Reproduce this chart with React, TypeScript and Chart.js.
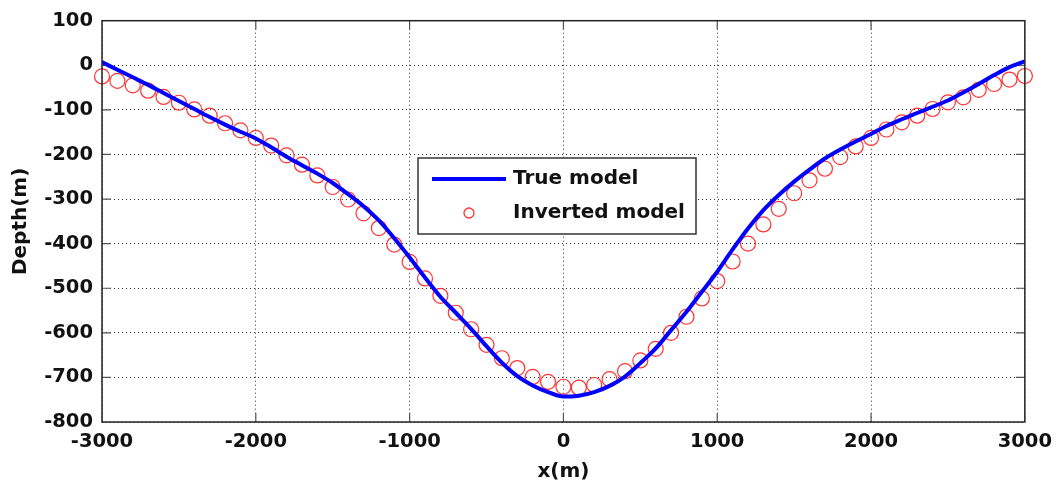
import React, { useEffect, useRef } from 'react';
import { Chart, registerables } from 'chart.js';

Chart.register(...registerables);

// ---- data ----
const xPositions: number[] = [
  -3000, -2900, -2800, -2700, -2600, -2500, -2400, -2300, -2200, -2100,
  -2000, -1900, -1800, -1700, -1600, -1500, -1400, -1300, -1200, -1100,
  -1000, -900, -800, -700, -600, -500, -400, -300, -200, -100,
  0, 100, 200, 300, 400, 500, 600, 700, 800, 900,
  1000, 1100, 1200, 1300, 1400, 1500, 1600, 1700, 1800, 1900,
  2000, 2100, 2200, 2300, 2400, 2500, 2600, 2700, 2800, 2900, 3000,
];

const trueDepth: number[] = [
  7, -10, -27, -44, -62, -80, -98, -116, -133, -149,
  -164, -184, -205, -224, -243, -264, -289, -316, -348, -388,
  -431, -476, -519, -555, -591, -630, -667, -697, -718, -733,
  -743, -741, -733, -719, -698, -668, -635, -594, -553, -508,
  -463, -413, -366, -325, -291, -261, -234, -209, -189, -171,
  -154, -136, -121, -107, -93, -79, -61, -42, -22, -4, 9,
];

const invertedDepth: number[] = [
  -25, -35, -45, -57, -71, -84, -99, -113, -130, -146,
  -163, -180, -202, -223, -247, -273, -301, -332, -365, -402,
  -441, -478, -517, -555, -592, -627, -657, -679, -699, -710,
  -721, -723, -717, -704, -686, -662, -636, -600, -564, -523,
  -484, -440, -400, -357, -322, -287, -258, -232, -206, -182,
  -163, -144, -128, -113, -98, -83, -72, -55, -42, -32, -24,
];

const xTicks: number[] = [-3000, -2000, -1000, 0, 1000, 2000, 3000];
const yTicks: number[] = [100, 0, -100, -200, -300, -400, -500, -600, -700, -800];

const seriesLabels: string[] = ['True model', 'Inverted model'];

// ---- styles ----
const FONT = "'DejaVu Sans', 'Liberation Sans', Arial, sans-serif";
const TEXT_COLOR = '#111111';
const BLUE = '#0000ff';
const RED = 'rgba(255, 30, 30, 0.9)';

const framePlugin = {
  id: 'matlabFrame',
  beforeDatasetsDraw(chart: any) {
    const { ctx, chartArea, scales } = chart;
    const { left, right, top, bottom } = chartArea;
    const tl = 9;
    ctx.save();
    ctx.strokeStyle = '#555555';
    ctx.lineWidth = 1.2;
    ctx.beginPath();
    for (const v of xTicks) {
      const px = scales.x.getPixelForValue(v);
      if (px <= left + 1 || px >= right - 1) continue;
      ctx.moveTo(px, bottom);
      ctx.lineTo(px, bottom - tl);
      ctx.moveTo(px, top);
      ctx.lineTo(px, top + tl);
    }
    for (const v of yTicks) {
      const py = scales.y.getPixelForValue(v);
      if (py <= top + 1 || py >= bottom - 1) continue;
      ctx.moveTo(left, py);
      ctx.lineTo(left + tl, py);
      ctx.moveTo(right, py);
      ctx.lineTo(right - tl, py);
    }
    ctx.stroke();
    ctx.restore();
  },
  afterDatasetsDraw(chart: any) {
    const { ctx, chartArea } = chart;
    const { left, right, top, bottom } = chartArea;
    ctx.save();
    ctx.strokeStyle = '#222222';
    ctx.lineWidth = 1.5;
    ctx.strokeRect(left, top, right - left, bottom - top);

    // legend box
    const lx = 418, ly = 158, lw = 278, lh = 76;
    ctx.fillStyle = '#ffffff';
    ctx.fillRect(lx, ly, lw, lh);
    ctx.strokeStyle = '#333333';
    ctx.lineWidth = 1.5;
    ctx.strokeRect(lx, ly, lw, lh);

    const ds = chart.data.datasets;
    ctx.strokeStyle = ds[0].borderColor;
    ctx.lineWidth = ds[0].borderWidth;
    ctx.beginPath();
    ctx.moveTo(432, 179);
    ctx.lineTo(506, 179);
    ctx.stroke();
    ctx.strokeStyle = ds[1].borderColor;
    ctx.lineWidth = 1.3;
    ctx.beginPath();
    ctx.arc(469, 213, 5, 0, Math.PI * 2);
    ctx.stroke();

    ctx.fillStyle = TEXT_COLOR;
    ctx.font = `bold 20px ${FONT}`;
    ctx.textAlign = 'left';
    ctx.textBaseline = 'middle';
    ctx.fillText(ds[0].label, 513, 179);
    ctx.fillText(ds[1].label, 513, 213);
    ctx.restore();
  },
};

export default function App() {
  const canvasRef = useRef<HTMLCanvasElement | null>(null);

  useEffect(() => {
    document.body.style.margin = '0';
    const canvas = canvasRef.current;
    if (!canvas) return;

    const lineData = xPositions.map((x, i) => ({ x, y: trueDepth[i] }));
    const circleData = xPositions.map((x, i) => ({ x, y: invertedDepth[i] }));

    const tickFont = { family: FONT, size: 19.5, weight: 'bold' as const };
    const titleFont = { family: FONT, size: 20, weight: 'bold' as const };

    const chart = new Chart(canvas, {
      type: 'scatter',
      data: {
        datasets: [
          {
            label: seriesLabels[0],
            data: lineData,
            showLine: true,
            borderColor: BLUE,
            backgroundColor: BLUE,
            borderWidth: 4,
            pointRadius: 0,
            cubicInterpolationMode: 'monotone',
          } as any,
          {
            label: seriesLabels[1],
            data: circleData,
            showLine: false,
            borderColor: RED,
            backgroundColor: 'rgba(0,0,0,0)',
            borderWidth: 1.2,
            pointRadius: 7.5,
            pointStyle: 'circle',
            clip: false,
          } as any,
        ],
      },
      options: {
        responsive: false,
        animation: false,
        layout: { padding: { top: 20, right: 33, left: 0, bottom: 0 } },
        plugins: {
          legend: { display: false },
          tooltip: { enabled: false },
        },
        scales: {
          x: {
            type: 'linear',
            min: -3000,
            max: 3000,
            afterFit: (s: any) => { s.height = 69; },
            afterBuildTicks: (s: any) => { s.ticks = xTicks.map((v) => ({ value: v })); },
            ticks: {
              font: tickFont,
              color: TEXT_COLOR,
              padding: 8,
              maxRotation: 0,
              autoSkip: false,
              callback: (v: any) => String(v),
            },
            grid: { color: '#333333', lineWidth: 1, drawTicks: false },
            border: { display: false, dash: [1, 3] },
            title: {
              display: true,
              text: 'x(m)',
              font: titleFont,
              color: TEXT_COLOR,
              padding: { top: 0, bottom: 7 },
            },
          },
          y: {
            type: 'linear',
            min: -800,
            max: 100,
            afterFit: (s: any) => { s.width = 102; },
            afterBuildTicks: (s: any) => { s.ticks = yTicks.map((v) => ({ value: v })); },
            ticks: {
              font: tickFont,
              color: TEXT_COLOR,
              padding: 9,
              autoSkip: false,
              callback: (v: any) => String(v),
            },
            grid: { color: '#333333', lineWidth: 1, drawTicks: false },
            border: { display: false, dash: [1, 3] },
            title: {
              display: true,
              text: 'Depth(m)',
              font: titleFont,
              color: TEXT_COLOR,
              padding: { top: 9, bottom: 0 },
            },
          },
        },
      },
      plugins: [framePlugin],
    });

    return () => {
      chart.destroy();
    };
  }, []);

  return (
    <div style={{ width: 1060, height: 491, background: '#ffffff' }}>
      <canvas ref={canvasRef} width={1060} height={491} style={{ width: 1060, height: 491, display: 'block' }} />
    </div>
  );
}
